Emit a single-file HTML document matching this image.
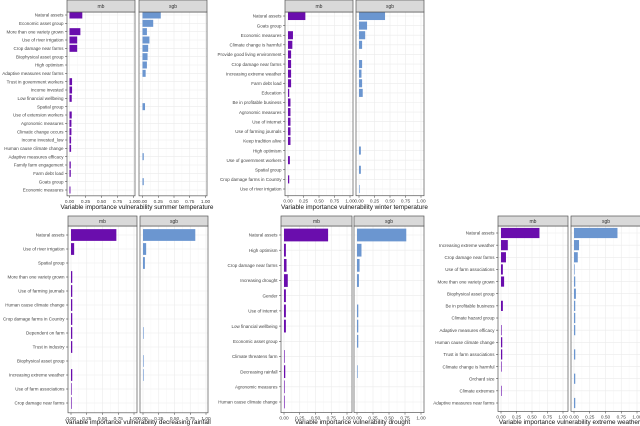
<!DOCTYPE html>
<html><head><meta charset="utf-8"><style>
html,body{margin:0;padding:0;background:#fff;width:640px;height:426px;overflow:hidden}
svg{font-family:"Liberation Sans",sans-serif}
</style></head><body>
<svg id="fig" width="640" height="426" viewBox="0 0 640 426"></svg>
<script>
const summerLabels=["Natural assets","Economic asset group","More than one variety grown","Use of river irrigation","Crop damage near farms","Biophysical asset group","High optimism","Adaptive measures near farms","Trust in government workers","Income invested","Low financial wellbeing","Spatial group","Use of extension workers","Agronomic measures","Climatic change occurs","Income invested_low","Human cause climate change","Adaptive measures efficacy","Family farm engagement","Farm debt load","Goats group","Economic measures"];
const summerMb=[.20,0,.17,.12,.12,0,0,0,.04,.04,.035,0,.035,.03,.03,.025,.025,0,.02,.02,0,.015];
const summerSgb=[.29,.17,.07,.11,.09,.08,.07,.05,0,0,0,.04,0,0,0,0,0,.02,0,0,.02,0];
const winterLabels=["Natural assets","Goats group","Economic measures","Climate change is harmful","Provide good living environment","Crop damage near farms","Increasing extreme weather","Farm debt load","Education","Be in profitable business","Agronomic measures","Use of internet","Use of farming journals","Keep tradition alive","High optimism","Use of government workers","Spatial group","Crop damage farms in Country","Use of river irrigation"];
const winterMb=[.28,0,.08,.07,.05,.05,.05,.05,.02,.04,.04,.04,.04,.04,0,.03,0,.02,0];
const winterSgb=[.42,.13,.10,.05,0,.05,.04,.05,.06,0,0,0,0,0,.03,0,.03,0,.01];
const rainLabels=["Natural assets","Use of river irrigation","Spatial group","More than one variety grown","Use of farming journals","Human cause climate change","Crop damage farms in Country","Dependent on farm","Trust in industry","Biophysical asset group","Increasing extreme weather","Use of farm associations","Crop damage near farms"];
const rainMb=[.72,.05,0,.02,.02,.02,.02,.02,.02,0,.02,.01,.01];
const rainSgb=[.83,.05,.03,0,0,0,0,.01,0,.01,.01,0,0];
const droughtLabels=["Natural assets","High optimism","Crop damage near farms","Increasing drought","Gender","Use of internet","Low financial wellbeing","Economic asset group","Climate threatens farm","Decreasing rainfall","Agronomic measures","Human cause climate change"];
const droughtMb=[.70,.03,.04,.06,.03,.03,.03,0,.01,.02,.01,.01];
const droughtSgb=[.77,.07,.04,.03,0,.02,.02,.02,0,.01,0,0];
const extremeLabels=["Natural assets","Increasing extreme weather","Crop damage near farms","Use of farm associations","More than one variety grown","Biophysical asset group","Be in profitable business","Climate hazard group","Adaptive measures efficacy","Human cause climate change","Trust in farm associations","Climate change is harmful","Orchard size","Climate extremes","Adaptive measures near farms"];
const extremeMb=[.62,.11,.08,.03,.05,0,.03,0,.01,.02,.02,.01,0,.01,0];
const extremeSgb=[.69,.08,.06,.01,.02,.03,.02,.02,.02,0,.02,0,.02,0,.02];
const facetNames=["mb","sgb"];
const tickLabels=["0.00","0.25","0.50","0.75","1.00"];
const tickVals=[0,.25,.5,.75,1];

const NS="http://www.w3.org/2000/svg";
const svg=document.getElementById('fig');
function mk(tag,attrs,parent){const e=document.createElementNS(NS,tag);for(const k in attrs)e.setAttribute(k,attrs[k]);(parent||svg).appendChild(e);return e;}

function panel(id,title,labels,mbVals,sgbVals,cfg){
  const g=mk('g',{});
  
  
  const n=labels.length;
  const yPos=i=>cfg.y0+(cfg.y1-cfg.y0)*i/(n-1);
  const step=(cfg.y1-cfg.y0)/(n-1);
  const facets=[{x0:cfg.f1[0],x1:cfg.f1[1],z:cfg.z1[0],o:cfg.z1[1],v:mbVals,c:"#6a0dad",name:facetNames[0]},
                {x0:cfg.f2[0],x1:cfg.f2[1],z:cfg.z2[0],o:cfg.z2[1],v:sgbVals,c:"#6b96d0",name:facetNames[1]}];
  facets.forEach((f,fi)=>{
    const fg=mk('g',{},g);
    
    
    const xs=v=>f.z+(f.o-f.z)*v;
    const top=cfg.stripBot, bot=cfg.y1+step*0.7;
    mk('rect',{x:f.x0,y:top,width:f.x1-f.x0,height:bot-top,fill:'#fff'},fg);
    tickVals.forEach(t=>{mk('line',{x1:xs(t),x2:xs(t),y1:top,y2:bot,stroke:'#ebebeb','stroke-width':0.6},fg);});
    [0.125,0.375,0.625,0.875].forEach(t=>{mk('line',{x1:xs(t),x2:xs(t),y1:top,y2:bot,stroke:'#f4f4f4','stroke-width':0.4},fg);});
    labels.forEach((l,i)=>{mk('line',{x1:f.x0,x2:f.x1,y1:yPos(i),y2:yPos(i),stroke:'#ebebeb','stroke-width':0.6},fg);});
    f.v.forEach((v,i)=>{
      if(v<=0)return;
      const b=mk('rect',{x:xs(0),y:yPos(i)-step*0.42,width:xs(v)-xs(0),height:step*0.84,fill:f.c},fg);
      
      
    });
    mk('rect',{x:f.x0,y:top,width:f.x1-f.x0,height:bot-top,fill:'none',stroke:'#555','stroke-width':0.7},fg);
    const s=mk('rect',{x:f.x0,y:cfg.stripTop,width:f.x1-f.x0,height:cfg.stripBot-cfg.stripTop,fill:'#d9d9d9',stroke:'#555','stroke-width':0.7},fg);
    
    
    const st=mk('text',{x:(f.x0+f.x1)/2,y:(cfg.stripTop+cfg.stripBot)/2+2,'font-size':5,fill:'#333','text-anchor':'middle'},fg);
    st.textContent=f.name;
    tickVals.forEach((t,ti)=>{
      mk('line',{x1:xs(t),x2:xs(t),y1:bot,y2:bot+2,stroke:'#333','stroke-width':0.5},fg);
      const tt=mk('text',{x:xs(t),y:bot+7,'font-size':4.8,fill:'#444','text-anchor':'middle'},fg);
      tt.textContent=tickLabels[ti];
    });
  });
  labels.forEach((l,i)=>{
    const t=mk('text',{x:cfg.f1[0]-3.5,y:yPos(i)+1.7,'font-size':4.5,fill:'#444','text-anchor':'end'},g);
    t.textContent=l;
    
    
    mk('line',{x1:cfg.f1[0]-2,x2:cfg.f1[0],y1:yPos(i),y2:yPos(i),stroke:'#333','stroke-width':0.5},g);
  });
  const xt=mk('text',{x:(cfg.f1[0]+cfg.f2[1])/2,y:cfg.titleY,'font-size':6.4,fill:'#111','text-anchor':'middle'},g);
  xt.textContent=title;
  
  
}

panel('summer','Variable importance vulnerability summer temperature',summerLabels,summerMb,summerSgb,
 {f1:[67,135],f2:[139,207],z1:[69.5,133.5],z2:[142.5,205.5],y0:15,y1:190,stripTop:0,stripBot:12,titleY:209});
panel('winter','Variable importance vulnerability winter temperature',winterLabels,winterMb,winterSgb,
 {f1:[285,353],f2:[356,424],z1:[288,350],z2:[359,421],y0:16,y1:189,stripTop:0,stripBot:12,titleY:209});
panel('rainfall','Variable importance vulnerability decreasing rainfall',rainLabels,rainMb,rainSgb,
 {f1:[68,137],f2:[140,208],z1:[71,134],z2:[143,206],y0:235,y1:403,stripTop:216,stripBot:226,titleY:424});
panel('drought','Variable importance vulnerability drought',droughtLabels,droughtMb,droughtSgb,
 {f1:[281,352],f2:[354,424],z1:[284,347],z2:[357,421],y0:235,y1:402,stripTop:216,stripBot:226,titleY:424});
panel('extreme','Variable importance vulnerability extreme weather',extremeLabels,extremeMb,extremeSgb,
 {f1:[498,568],f2:[571,641],z1:[501,563],z2:[574,637],y0:233,y1:403,stripTop:216,stripBot:226,titleY:424});
</script>
</body></html>
